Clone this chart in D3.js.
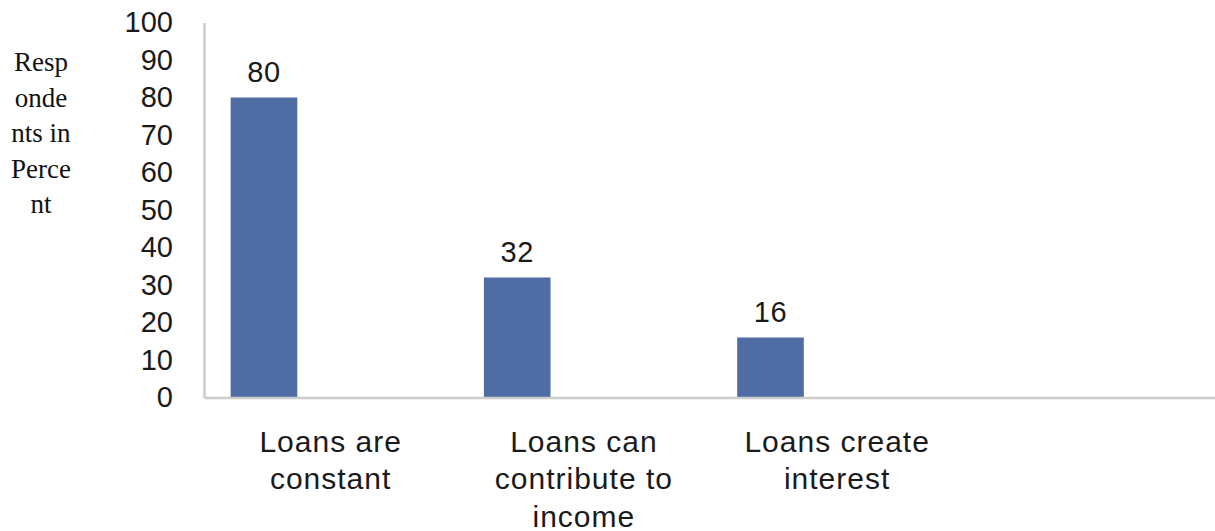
<!DOCTYPE html>
<html>
<head>
<meta charset="utf-8">
<script src="https://cdn.jsdelivr.net/npm/d3@7"></script>
<style>
  body { margin: 0; background: #fff; }
  svg { display: block; }
</style>
</head>
<body>
<svg id="chart" width="1215" height="531"></svg>
<script>
// data
const categories = ["Loans are constant", "Loans can contribute to income", "Loans create interest", ""];
const values = [80, 32, 16, null];
const series = ["s1", "s2", "s3"];     // clustered slots, only the first one is filled
const yTicks = [0, 10, 20, 30, 40, 50, 60, 70, 80, 90, 100];
const yTitleLines = ["Resp", "onde", "nts in", "Perce", "nt"];

const W = 1215, H = 531;
const margin = {left: 204, right: 0, top: 22.5, bottom: 133.5};
const barColor = "#4f6ca4";
const axisColor = "#cccccc";
const sans = "'Liberation Sans', Arial, sans-serif";

const svg = d3.select("#chart");

const x = d3.scaleBand()
  .domain(categories.map((c, i) => i))
  .range([margin.left, W - margin.right + 2]);

const xs = d3.scaleBand()
  .domain(series)
  .range([0, x.bandwidth()])
  .paddingOuter(0.4);

const y = d3.scaleLinear()
  .domain([0, 100])
  .range([H - margin.bottom, margin.top]);

const filled = values.map((v, i) => ({i, v})).filter(d => d.v != null);

// bars
svg.append("g").selectAll("rect")
  .data(filled)
  .join("rect")
  .attr("x", d => x(d.i) + xs("s1"))
  .attr("width", xs.bandwidth())
  .attr("y", d => y(d.v))
  .attr("height", d => y(0) - y(d.v))
  .attr("fill", barColor);

// value labels
svg.append("g").selectAll("text")
  .data(filled)
  .join("text")
  .attr("x", d => x(d.i) + xs("s1") + xs.bandwidth() / 2)
  .attr("y", d => y(d.v) - 16)
  .attr("text-anchor", "middle")
  .attr("font-family", sans)
  .attr("font-size", 29)
  .attr("letter-spacing", 0.5)
  .attr("fill", "#1a1a1a")
  .text(d => d.v);

// y axis
const yAxis = svg.append("g")
  .attr("transform", `translate(${margin.left},0)`)
  .call(d3.axisLeft(y).tickValues(yTicks).tickSize(0).tickPadding(31));
yAxis.select(".domain").attr("stroke", axisColor).attr("stroke-width", 2.5);
yAxis.selectAll("text")
  .attr("font-family", sans)
  .attr("font-size", 29)
  .attr("fill", "#1a1a1a");

// x axis
const xAxis = svg.append("g")
  .attr("transform", `translate(0,${y(0)})`)
  .call(d3.axisBottom(x).tickSize(0).tickFormat(""));
xAxis.select(".domain").attr("stroke", axisColor).attr("stroke-width", 2.5);

// category labels, wrapped
const lineH = 37.5;
const catG = svg.append("g");
categories.forEach((c, i) => {
  if (!c) return;
  const cx = x(i) + x.bandwidth() / 2;
  const t = catG.append("text")
    .attr("x", cx)
    .attr("y", y(0) + 54)
    .attr("text-anchor", "middle")
    .attr("font-family", sans)
    .attr("font-size", 30)
    .attr("letter-spacing", 1)
    .attr("fill", "#1a1a1a");
  let line = [];
  let ts = t.append("tspan").attr("x", cx).attr("dy", 0);
  c.split(" ").forEach(w => {
    line.push(w);
    ts.text(line.join(" "));
    if (ts.node().getComputedTextLength() > 205 && line.length > 1) {
      line.pop();
      ts.text(line.join(" "));
      line = [w];
      ts = t.append("tspan").attr("x", cx).attr("dy", lineH).text(w);
    }
  });
});

// y title (serif, narrow wrap as in the source)
svg.append("text")
  .attr("font-family", "'Liberation Serif', 'DejaVu Serif', serif")
  .attr("font-size", 27)
  .attr("fill", "#111")
  .attr("text-anchor", "middle")
  .selectAll("tspan")
  .data(yTitleLines)
  .join("tspan")
  .attr("x", 41)
  .attr("y", (d, i) => 71 + i * 35.5)
  .text(d => d);
</script>
</body>
</html>
